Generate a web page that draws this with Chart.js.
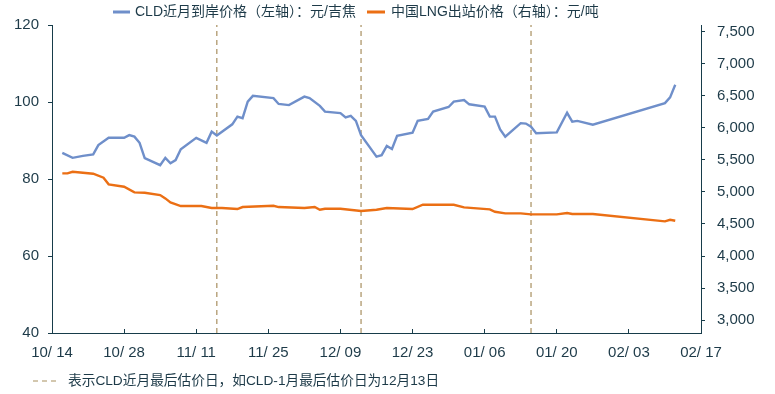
<!DOCTYPE html>
<html>
<head>
<meta charset="utf-8">
<script src="https://cdn.jsdelivr.net/npm/chart.js@4/dist/chart.umd.min.js"></script>
<style>
html,body{margin:0;padding:0;background:#fff;}
#wrap{width:775px;height:394px;position:relative;}
</style>
</head>
<body>
<div id="wrap"><canvas id="c" width="775" height="394"></canvas></div>
<script>
// ---- data ----
const xTickLabels = ['10/ 14','10/ 28','11/ 11','11/ 25','12/ 09','12/ 23','01/ 06','01/ 20','02/ 03','02/ 17'];
const leftTicks = [40, 60, 80, 100, 120];
const rightTicks = [3000, 3500, 4000, 4500, 5000, 5500, 6000, 6500, 7000, 7500];

const cldDates = ['10/16','10/18','10/20','10/22','10/23','10/25','10/28','10/29','10/30','10/31','11/01','11/04','11/05','11/06','11/07','11/08','11/11','11/13','11/14','11/15','11/18','11/19','11/20','11/21','11/22','11/26','11/27','11/29','12/02','12/03','12/05','12/06','12/09','12/10','12/11','12/12','12/13','12/16','12/17','12/18','12/19','12/20','12/23','12/24','12/26','12/27','12/30','12/31','01/02','01/03','01/06','01/07','01/08','01/09','01/10','01/13','01/14','01/15','01/16','01/20','01/22','01/23','01/24','01/27','02/10','02/11','02/12'];
const cldValues = [86.8,85.5,86.0,86.4,88.8,90.7,90.7,91.4,91.0,89.4,85.4,83.6,85.5,84.1,84.9,87.7,90.7,89.4,92.3,91.3,94.2,96.2,95.8,100.1,101.6,101.0,99.5,99.2,101.4,101.0,99.0,97.5,97.1,96.0,96.4,95.1,91.4,85.8,86.2,88.6,87.8,91.2,92.0,95.1,95.6,97.5,98.7,100.1,100.5,99.4,98.8,96.2,96.2,92.9,91.0,94.5,94.4,93.6,91.9,92.1,97.2,94.9,95.1,94.1,99.7,101.2,104.5];

const lngDates = ['10/16','10/17','10/18','10/20','10/22','10/24','10/25','10/28','10/30','11/01','11/04','11/05','11/06','11/08','11/12','11/14','11/16','11/19','11/20','11/26','11/27','12/02','12/04','12/05','12/06','12/09','12/13','12/16','12/18','12/23','12/25','12/31','01/02','01/07','01/08','01/10','01/13','01/15','01/20','01/22','01/23','01/27','02/10','02/11','02/12'];
const lngValues = [5288,5288,5313,5297,5282,5220,5117,5079,4992,4986,4950,4898,4836,4779,4779,4748,4748,4732,4763,4783,4763,4748,4763,4721,4737,4737,4701,4721,4748,4732,4799,4799,4758,4727,4690,4665,4665,4649,4649,4670,4654,4654,4540,4565,4550];

const cutoffDates = ['11/15','12/13','01/15'];

const seriesNames = ['CLD近月到岸价格（左轴）：元/吉焦', '中国LNG出站价格（右轴）：元/吨'];
const noteText = '表示CLD近月最后估价日，如CLD-1月最后估价日为12月13日';

// ---- helpers ----
function dayOffset(s) { // days since 2024-10-14
  const [m, d] = s.split('/').map(Number);
  if (m === 10) return d - 14;
  if (m === 11) return 17 + d;
  if (m === 12) return 47 + d;
  if (m === 1) return 78 + d;
  if (m === 2) return 109 + d;
  return 0;
}
const toPts = (dates, vals) => dates.map((s, i) => ({ x: dayOffset(s), y: vals[i] }));

const BLUE = '#6f8fca';
const ORANGE = '#eb6f14';
const AXIS = '#173c4a';
const TXT = '#1d3a48';
const DASH = '#a88f5f';
const FONT = '"Liberation Sans", Arial, "Noto Sans CJK SC", sans-serif';

const cutoffSets = cutoffDates.map(s => ({
  type: 'line',
  data: [{ x: dayOffset(s), y: leftTicks[0] }, { x: dayOffset(s), y: leftTicks[leftTicks.length - 1] }],
  yAxisID: 'y',
  borderColor: DASH,
  borderWidth: 1.2,
  borderDash: [5, 4],
  pointRadius: 0,
  order: 5
}));

const overlay = {
  id: 'overlay',
  afterDraw(chart) {
    const ctx = chart.ctx;
    ctx.save();
    ctx.textBaseline = 'middle';
    // legend
    ctx.font = '14px ' + FONT;
    const ly = 12;
    let x = 113;
    ctx.fillStyle = BLUE; ctx.fillRect(x, ly - 1.5, 17, 3);
    ctx.fillStyle = TXT; ctx.fillText(seriesNames[0], x + 22, ly);
    x = 367;
    ctx.fillStyle = ORANGE; ctx.fillRect(x, ly - 1.5, 18, 3);
    ctx.fillStyle = TXT; ctx.fillText(seriesNames[1], x + 24, ly);
    // footnote
    ctx.font = '13.7px ' + FONT;
    const ny = 381;
    ctx.strokeStyle = DASH; ctx.lineWidth = 1.2; ctx.setLineDash([5, 4]);
    ctx.beginPath(); ctx.moveTo(33, ny); ctx.lineTo(60, ny); ctx.stroke();
    ctx.setLineDash([]);
    ctx.fillStyle = TXT;
    ctx.fillText(noteText, 68, ny);
    ctx.restore();
  }
};

new Chart(document.getElementById('c'), {
  type: 'line',
  data: {
    datasets: [
      { label: seriesNames[0], data: toPts(cldDates, cldValues), yAxisID: 'y', borderColor: BLUE, backgroundColor: BLUE, borderWidth: 2.4, pointRadius: 0, tension: 0, order: 1 },
      { label: seriesNames[1], data: toPts(lngDates, lngValues), yAxisID: 'y2', borderColor: ORANGE, backgroundColor: ORANGE, borderWidth: 2.4, pointRadius: 0, tension: 0, order: 2 },
      ...cutoffSets
    ]
  },
  options: {
    responsive: false,
    animation: false,
    events: [],
    layout: { padding: { top: 25, left: 0, right: 0, bottom: 0 } },
    plugins: { legend: { display: false }, tooltip: { enabled: false } },
    scales: {
      x: {
        type: 'linear',
        position: 'bottom',
        min: 0, max: 126,
        afterBuildTicks: s => { s.ticks = xTickLabels.map((_, i) => ({ value: i * 14 })); },
        afterFit: s => { s.height = 61; },
        grid: { drawOnChartArea: false, tickLength: -4, color: AXIS, tickWidth: 1 },
        border: { color: AXIS, width: 1 },
        ticks: {
          autoSkip: false, maxRotation: 0, padding: 15,
          color: TXT, font: { family: FONT, size: 15 },
          callback: (v, i) => xTickLabels[i]
        }
      },
      y: {
        position: 'left',
        min: 40, max: 120,
        afterBuildTicks: s => { s.ticks = leftTicks.map(v => ({ value: v })); },
        afterFit: s => { s.width = 52; },
        grid: { drawOnChartArea: false, tickLength: 4, color: AXIS },
        border: { color: AXIS, width: 1 },
        ticks: { padding: 9, color: TXT, font: { family: FONT, size: 15 } }
      },
      y2: {
        position: 'right',
        min: 2800, max: 7600,
        afterBuildTicks: s => { s.ticks = rightTicks.map(v => ({ value: v })); },
        afterFit: s => { s.width = 74; },
        grid: { drawOnChartArea: false, tickLength: 4, color: AXIS },
        border: { color: AXIS, width: 1 },
        ticks: { padding: 12, color: TXT, font: { family: FONT, size: 15 },
          callback: v => v.toLocaleString('en-US') }
      }
    }
  },
  plugins: [overlay]
});
</script>
</body>
</html>
